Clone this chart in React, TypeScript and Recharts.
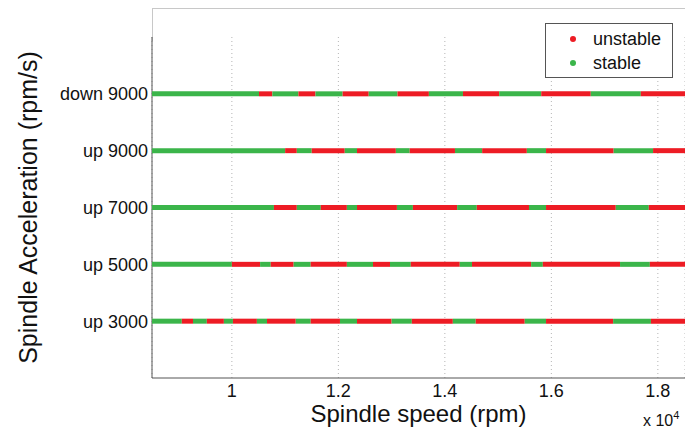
import React from 'react';
import {
  ScatterChart,
  Scatter,
  XAxis,
  YAxis,
  CartesianGrid,
  Legend,
  Label
} from 'recharts';

const FONT = '"Liberation Sans", Arial, Helvetica, sans-serif';

const SPEED_MIN = 8500;
const SPEED_MAX = 18510;
const SPEED_TICKS = [10000, 12000, 14000, 16000, 18000];

const ROW_LABELS = ['up 3000', 'up 5000', 'up 7000', 'up 9000', 'down 9000'];
const ROW_TICKS = [1, 2, 3, 4, 5];

// spindle speeds (rpm) where the state flips; every row starts stable
const switchesUp3000 = [9060, 9270, 9530, 9850, 10020, 10470, 10660, 11200, 11480, 12030, 12350, 13000, 13380, 14150, 14580, 15500, 15900, 17160, 17870];
const switchesUp5000 = [10000, 10530, 10730, 11160, 11480, 12160, 12650, 12970, 13360, 14280, 14510, 15620, 15840, 17290, 17850];
const switchesUp7000 = [10790, 11220, 11670, 12160, 12350, 13100, 13400, 14230, 14600, 15580, 15900, 17210, 17830];
const switchesUp9000 = [11000, 11220, 11500, 12120, 12350, 13080, 13340, 14190, 14700, 15540, 15900, 17170, 17910];
const switchesDown9000 = [10510, 10760, 11250, 11570, 12080, 12570, 13110, 13700, 14340, 15020, 15810, 16740, 17680];

const ROW_SWITCHES = [switchesUp3000, switchesUp5000, switchesUp7000, switchesUp9000, switchesDown9000];

const STATES = [
  { name: 'unstable', color: '#ed1c24' },
  { name: 'stable', color: '#3bb54a' }
];

// one two-point segment per constant-state stretch of a row
const segments = ROW_SWITCHES.flatMap((sw, r) => {
  const pts = [SPEED_MIN, ...sw, SPEED_MAX];
  return pts.slice(0, -1).map((from, i) => ({
    stable: i % 2 === 0,
    data: [
      { x: from, y: ROW_TICKS[r] },
      { x: pts[i + 1], y: ROW_TICKS[r] }
    ]
  }));
});

const StateLegend = () => (
  <div
    style={{
      width: 128,
      height: 55,
      boxSizing: 'border-box',
      border: '1px solid #555',
      background: '#fff',
      fontFamily: FONT,
      fontSize: 18,
      color: '#111',
      paddingTop: 3
    }}
  >
    {STATES.map((s) => (
      <div key={s.name} style={{ display: 'flex', alignItems: 'center', height: 24 }}>
        <span
          style={{
            display: 'inline-block',
            width: 6,
            height: 6,
            borderRadius: 3,
            background: s.color,
            marginLeft: 24,
            marginRight: 17
          }}
        />
        {s.name}
      </div>
    ))}
  </div>
);

const NoDot = () => <g />;

export default function App() {
  return (
    <div style={{ position: 'absolute', left: 0, top: 0, width: 685, height: 431, background: '#fff' }}>
      <div
        style={{
          position: 'absolute',
          left: 152,
          top: 8,
          width: 540,
          height: 32,
          borderTop: '1px solid #c8c8c8',
          borderLeft: '1px solid #c8c8c8'
        }}
      />
      <ScatterChart width={685} height={431} margin={{ top: 37, right: 0, bottom: 0, left: 0 }}>
        <CartesianGrid horizontal={false} strokeDasharray="1 3" stroke="#b5b5b5" />
        <XAxis
          type="number"
          dataKey="x"
          domain={[SPEED_MIN, SPEED_MAX]}
          ticks={SPEED_TICKS}
          allowDataOverflow
          tickFormatter={(v: number) => String(v / 10000)}
          height={53}
          stroke="#555"
          tickLine={false}
          tickMargin={0}
          tick={{ fill: '#111', fontSize: 18, fontFamily: FONT }}
        >
          <Label
            content={(props: any) => {
              const vb = props.viewBox;
              return (
                <g fontFamily={FONT} fill="#111">
                  <text x={vb.x + vb.width / 2} y={vb.y + 44} textAnchor="middle" fontSize={24}>
                    Spindle speed (rpm)
                  </text>
                  <text x={vb.x + vb.width - 42} y={vb.y + 48} fontSize={16}>
                    x 10<tspan dy={-7} fontSize={11}>4</tspan>
                  </text>
                </g>
              );
            }}
          />
        </XAxis>
        <YAxis
          type="number"
          dataKey="y"
          domain={[0, 6]}
          ticks={ROW_TICKS}
          allowDataOverflow
          tickFormatter={(v: number) => ROW_LABELS[v - 1] ?? ''}
          width={152}
          stroke="#555"
          tickLine={false}
          tickSize={4}
          tickMargin={0}
          tick={{ fill: '#111', fontSize: 18, fontFamily: FONT }}
        >
          <Label
            content={(props: any) => {
              const vb = props.viewBox;
              const cx = vb.x + 28;
              const cy = vb.y + vb.height / 2;
              return (
                <text
                  x={cx}
                  y={cy}
                  transform={`rotate(-90, ${cx}, ${cy})`}
                  textAnchor="middle"
                  dominantBaseline="central"
                  fontSize={25}
                  fontFamily={FONT}
                  fill="#111"
                >
                  Spindle Acceleration (rpm/s)
                </text>
              );
            }}
          />
        </YAxis>
        <Legend
          layout="horizontal"
          verticalAlign="middle"
          align="center"
          wrapperStyle={{ top: 23, left: 545, width: 128, height: 55 }}
          content={() => <StateLegend />}
        />
        {segments.map((s, i) => (
          <Scatter
            key={i}
            data={s.data}
            legendType="none"
            shape={NoDot}
            line={{ stroke: s.stable ? STATES[1].color : STATES[0].color, strokeWidth: 5 }}
            isAnimationActive={false}
          />
        ))}
      </ScatterChart>
    </div>
  );
}
